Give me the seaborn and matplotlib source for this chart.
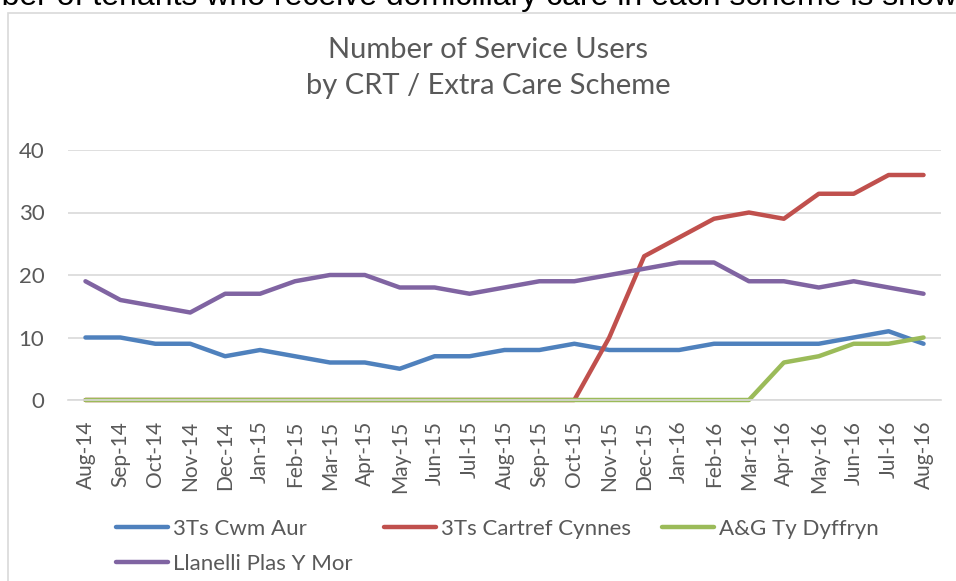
import matplotlib
matplotlib.use("Agg")
import matplotlib.pyplot as plt
import matplotlib.patches as mpatches
import seaborn as sns
import pandas as pd

# data
months = ["Aug-14", "Sep-14", "Oct-14", "Nov-14", "Dec-14", "Jan-15", "Feb-15", "Mar-15",
          "Apr-15", "May-15", "Jun-15", "Jul-15", "Aug-15", "Sep-15", "Oct-15", "Nov-15",
          "Dec-15", "Jan-16", "Feb-16", "Mar-16", "Apr-16", "May-16", "Jun-16", "Jul-16", "Aug-16"]
cwm_aur = [10, 10, 9, 9, 7, 8, 7, 6, 6, 5, 7, 7, 8, 8, 9, 8, 8, 8, 9, 9, 9, 9, 10, 11, 9]
cartref_cynnes = [0, 0, 0, 0, 0, 0, 0, 0, 0, 0, 0, 0, 0, 0, 0, 10, 23, 26, 29, 30, 29, 33, 33, 36, 36]
ty_dyffryn = [0, 0, 0, 0, 0, 0, 0, 0, 0, 0, 0, 0, 0, 0, 0, 0, 0, 0, 0, 0, 6, 7, 9, 9, 10]
plas_y_mor = [19, 16, 15, 14, 17, 17, 19, 20, 20, 18, 18, 17, 18, 19, 19, 20, 21, 22, 22, 19, 19, 18, 19, 18, 17]

series_names = ["3Ts Cwm Aur", "3Ts Cartref Cynnes", "A&G Ty Dyffryn", "Llanelli Plas Y Mor"]
series_values = [cwm_aur, cartref_cynnes, ty_dyffryn, plas_y_mor]
colors = ["#4F81BD", "#C0504D", "#9BBB59", "#8064A2"]

rows = []
for name, vals in zip(series_names, series_values):
    for i, v in enumerate(vals):
        rows.append({"idx": i, "month": months[i], "scheme": name, "users": v})
df = pd.DataFrame(rows)

sns.set_style("white")
plt.rcParams["font.family"] = ["Lato", "DejaVu Sans"]
text_grey = "#595959"
grid_grey = "#D9D9D9"

fig = plt.figure(figsize=(9.56, 5.81), dpi=100)

# text line of the surrounding document, clipped at the top
fig.text(975 / 956, 1 - 5 / 581,
         "The number of tenants who receive domiciliary care in each scheme is shown",
         ha="right", va="baseline", fontsize=23, color="black", family="Liberation Sans")

# chart frame
fig.patches.append(mpatches.Rectangle((8 / 956, -0.1), 1.2, 1.1 - 13 / 581,
                                      transform=fig.transFigure, fill=False,
                                      edgecolor=grid_grey, linewidth=1.2))

ax = fig.add_axes([68 / 956, 1 - 400 / 581, 873 / 956, 250 / 581])
sns.lineplot(data=df, x="idx", y="users", hue="scheme", hue_order=series_names,
             palette=colors, linewidth=3.2, legend=False, ax=ax)
for ln in ax.get_lines():
    ln.set_solid_capstyle("round")
    ln.set_solid_joinstyle("round")
    ln.set_clip_on(False)

ax.set_xlim(-0.5, len(months) - 0.5)
ax.set_ylim(0, 40)
ax.set_yticks([0, 10, 20, 30, 40])
ax.set_xticks(range(len(months)))
ax.set_xticklabels(months, rotation=90, ha="center", va="top")
ax.set_xticks([i - 0.5 for i in range(len(months) + 1)], minor=True)
ax.tick_params(axis="x", which="major", length=0, pad=15, labelsize=15, labelcolor=text_grey)
ax.tick_params(axis="x", which="minor", length=4.5, width=1, color=grid_grey)
ax.tick_params(axis="y", length=0, pad=17, labelsize=16, labelcolor=text_grey)
ax.set_xlabel("")
ax.set_ylabel("")
ax.grid(axis="y", color=grid_grey, linewidth=1.2)
ax.set_axisbelow(True)
for side in ["top", "right", "left"]:
    ax.spines[side].set_visible(False)
ax.spines["bottom"].set_color(grid_grey)
ax.spines["bottom"].set_linewidth(1.2)

fig.text(488 / 956, 1 - 68 / 581, "Number of Service Users\nby CRT / Extra Care Scheme",
         ha="center", va="center", fontsize=21, color=text_grey, linespacing=1.5)

handles = ax.get_lines()[:4]
order = [0, 3, 1, 2]
fig.legend([handles[i] for i in order], [series_names[i] for i in order],
           loc="upper left", bbox_to_anchor=(116 / 956, 1 - 519 / 581), ncol=3,
           frameon=False, fontsize=16, handlelength=2.34, handletextpad=0.22,
           columnspacing=1.4, labelspacing=0.68, borderpad=0, borderaxespad=0,
           labelcolor=text_grey)

fig.savefig("out.png", dpi=100)
